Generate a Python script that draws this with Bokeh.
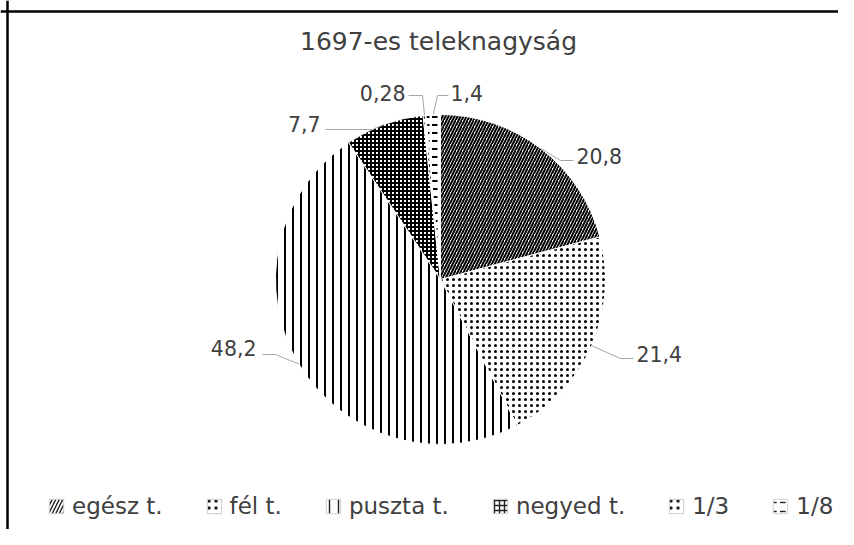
import math
from bokeh.plotting import figure
from bokeh.models import Range1d, Span, Legend, LegendItem, Label
from bokeh.embed import file_html
from bokeh.resources import INLINE
from bokeh.core.properties import value

# ---------------- data ----------------
title_text = "1697-es teleknagyság"
categories = ["egész t.", "fél t.", "puszta t.", "negyed t.", "1/3", "1/8"]
values = [20.8, 21.4, 48.2, 7.7, 0.28, 1.4]

# ---------------- styles ----------------
patterns = ["/", ".", "|", "+", ".", '"']
hscales = [6, 6, 8, 4, 6, 8]
hweights = [2, 1.6, 2, 2, 1.2, 2]
TEXT_COLOR = "#404040"
FONT = "DejaVu Sans"

W, H = 838, 529


def px(x):
    return x


def py(y):
    return H - y


cx, cy, R = px(440), py(279), 165

# label layout in page pixels: text anchor, alignment, leader elbow and end
label_layout = [
    dict(tx=576, ty=155, align="left", ex=560, ey=160, lx=573, ly=160),
    dict(tx=636, ty=353, align="left", ex=620, ey=358, lx=633, ly=358),
    dict(tx=256, ty=347, align="right", ex=275, ey=354, lx=262, ly=354),
    dict(tx=320, ty=123, align="right", ex=372, ey=129, lx=325, ly=129),
    dict(tx=405, ty=92, align="right", ex=422, ey=95, lx=408, ly=95),
    dict(tx=450, ty=92, align="left", ex=437, ey=95, lx=448, ly=95),
]

p = figure(width=W, height=H, x_range=Range1d(0, W), y_range=Range1d(0, H),
           x_axis_type=None, y_axis_type=None, output_backend="svg",
           toolbar_location=None, min_border=0, outline_line_color=None)
p.background_fill_color = "white"
p.border_fill_color = "white"

# frame lines (top and left)
p.add_layout(Span(location=py(11), dimension="width", line_color="black", line_width=2.5))
p.add_layout(Span(location=px(7), dimension="height", line_color="black", line_width=2.5))

total = sum(values)
cum = 0.0
mids = []
for i, v in enumerate(values):
    a0 = math.pi / 2 - 2 * math.pi * cum / total
    cum += v
    a1 = math.pi / 2 - 2 * math.pi * cum / total
    mids.append((a0 + a1) / 2)
    p.wedge(x=cx, y=cy, radius=R, start_angle=a0, end_angle=a1, direction="clock",
            fill_color="white", line_color="white", line_width=1,
            hatch_pattern=patterns[i], hatch_scale=hscales[i],
            hatch_weight=hweights[i], hatch_color="black")

# leader lines and data labels
xs, ys = [], []
for i, v in enumerate(values):
    L = label_layout[i]
    exx = cx + R * math.cos(mids[i])
    eyy = cy + R * math.sin(mids[i])
    xs.append([exx, px(L["ex"]), px(L["lx"])])
    ys.append([eyy, py(L["ey"]), py(L["ly"])])
    p.text(x=[px(L["tx"])], y=[py(L["ty"])], text=[str(v).replace(".", ",")],
           text_align=L["align"], text_baseline="middle",
           text_font=value(FONT), text_font_size="20.5px", text_color=TEXT_COLOR)
p.multi_line(xs=xs, ys=ys, line_color="#a6a6a6", line_width=1)

# title
p.add_layout(Label(x=px(438), y=py(41), text=title_text, text_align="center",
                   text_baseline="middle", text_font=FONT, text_font_size="25px",
                   text_color=TEXT_COLOR))

# legend (swatch renderers sit outside the visible range)
items = []
for i, c in enumerate(categories):
    r = p.rect(x=[-1000], y=[-1000], width=1, height=1, fill_color="white",
               line_color="#d0d0d0",
               hatch_pattern=patterns[i], hatch_scale=hscales[i] + 1,
               hatch_weight=hweights[i] * 0.7, hatch_color="#202020")
    items.append(LegendItem(label=c, renderers=[r]))
legend = Legend(items=items, orientation="horizontal", location=(47, 10), spacing=42,
                label_standoff=7, glyph_width=18, glyph_height=18, padding=0, margin=0,
                border_line_color=None, background_fill_alpha=0,
                label_text_font=FONT, label_text_font_size="23px",
                label_text_color=TEXT_COLOR)
p.add_layout(legend)

open("out.html", "w").write(file_html(p, INLINE))
